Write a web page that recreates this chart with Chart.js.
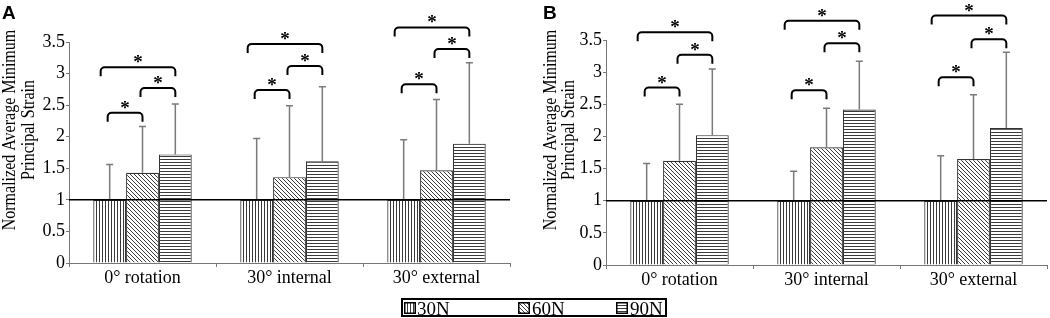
<!DOCTYPE html>
<html><head><meta charset="utf-8">
<script src="https://cdn.jsdelivr.net/npm/chart.js@4"></script>
<style>
html,body{margin:0;padding:0;background:#fff;width:1050px;height:318px;overflow:hidden;position:relative;font-family:'Liberation Serif','Times New Roman',serif}
canvas{position:absolute;top:0}
#ca{left:0}
#cb{left:525px}
.pl{position:absolute;font:bold 19px 'Liberation Sans',Arial,sans-serif;line-height:1;top:3px}
#legend{position:absolute;left:401px;top:298px;width:266px;height:19px;border:2px solid #000;box-sizing:border-box}
.sw{position:absolute;top:302px;width:12px;height:12px}
.lt{position:absolute;top:298.5px;font-size:19px;line-height:19px;color:#000;white-space:nowrap}
</style>
</head><body>
<canvas id="ca" width="525" height="318"></canvas>
<canvas id="cb" width="525" height="318"></canvas>
<div class="pl" style="left:2px">A</div>
<div class="pl" style="left:543px">B</div>
<div id="legend"></div>
<canvas class="sw" id="sw0" width="12" height="12" style="left:404px"></canvas>
<div class="lt" id="lt0" style="left:417px"></div>
<canvas class="sw" id="sw1" width="12" height="12" style="left:518px"></canvas>
<div class="lt" id="lt1" style="left:532px"></div>
<canvas class="sw" id="sw2" width="12" height="12" style="left:616px"></canvas>
<div class="lt" id="lt2" style="left:630px"></div>
<script>
// ---- data ----
const categories = ['0\u00B0 rotation', '30\u00B0 internal', '30\u00B0 external'];
const seriesNames = ['30N', '60N', '90N'];
const yTitle = ['Normalized Average Minimum', 'Principal Strain'];
const yTickLabels = ['0', '0.5', '1', '1.5', '2', '2.5', '3', '3.5'];

// Panel A: means and SD (upper error)
const a30 = [1, 1, 1];
const a60 = [1.43, 1.36, 1.47];
const a90 = [1.72, 1.61, 1.89];
const a30Err = [0.56, 0.97, 0.95];
const a60Err = [0.73, 1.13, 1.12];
const a90Err = [0.80, 1.18, 1.28];
// Panel B
const b30 = [1, 1, 1];
const b60 = [1.62, 1.83, 1.65];
const b90 = [2.02, 2.42, 2.13];
const b30Err = [0.58, 0.46, 0.70];
const b60Err = [0.88, 0.61, 1.00];
const b90Err = [1.03, 0.75, 1.18];
// significance brackets: pairs of series, height (data units) per category
const bracketPairs = [[0, 1], [1, 2], [0, 2]];
const aBrackets = [[2.38, 2.77, 3.10], [2.74, 3.12, 3.47], [2.83, 3.39, 3.73]];
const bBrackets = [[2.76, 3.27, 3.62], [2.72, 3.45, 3.80], [2.92, 3.51, 3.88]];
const refLine = 1;

const FONT = "'Liberation Serif','Times New Roman',serif";

function makeTile(kind) {
  const c = document.createElement('canvas');
  const n = kind === 'd' ? 4 : 3;
  c.width = n; c.height = n;
  const g = c.getContext('2d');
  g.fillStyle = '#fff'; g.fillRect(0, 0, n, n);
  g.fillStyle = '#3a3a3a';
  if (kind === 'v') g.fillRect(0, 0, 1, n);
  else if (kind === 'h') g.fillRect(0, 0, n, 1);
  else for (let i = 0; i < n; i++) g.fillRect(i, i, 1, 1);
  return c;
}
const kinds = ['v', 'd', 'h'];
function pattern(ctx, k) { return ctx.createPattern(makeTile(k), 'repeat'); }

const extras = {
  id: 'extras',
  afterDraw(chart, args, opts) {
    const ctx = chart.ctx;
    ctx.save();
    ctx.fillStyle = '#000';
    ctx.font = '16px ' + FONT;
    ctx.textAlign = 'center'; ctx.textBaseline = 'alphabetic';
    yTitle.forEach((line, i) => {
      ctx.save();
      ctx.translate(opts.titleX[i], opts.titleY);
      ctx.rotate(-Math.PI / 2);
      ctx.scale(1, 1.15);
      ctx.fillText(line, 0, 0);
      ctx.restore();
    });
    ctx.restore();
  },
  afterDatasetsDraw(chart, args, opts) {
    const ctx = chart.ctx, ys = chart.scales.y, area = chart.chartArea;
    ctx.save();
    // error bars
    ctx.strokeStyle = '#7a7a7a'; ctx.lineWidth = 1.5;
    opts.errors.forEach((errs, di) => {
      const meta = chart.getDatasetMeta(di);
      meta.data.forEach((bar, j) => {
        const v = chart.data.datasets[di].data[j];
        const top = ys.getPixelForValue(v + errs[j]);
        const x = bar.x;
        ctx.beginPath();
        ctx.moveTo(x, bar.y); ctx.lineTo(x, top);
        ctx.moveTo(x - 3.5, top); ctx.lineTo(x + 3.5, top);
        ctx.stroke();
      });
    });
    // reference line
    const yr = ys.getPixelForValue(refLine);
    ctx.strokeStyle = '#000'; ctx.lineWidth = 1.5;
    ctx.beginPath(); ctx.moveTo(area.left, yr); ctx.lineTo(area.right, yr); ctx.stroke();
    // brackets
    ctx.lineWidth = 2; ctx.strokeStyle = '#000'; ctx.fillStyle = '#000';
    ctx.font = 'bold 19px ' + FONT; ctx.textAlign = 'center'; ctx.textBaseline = 'alphabetic';
    opts.brackets.forEach((hs, cat) => {
      hs.forEach((h, k) => {
        const [f, t] = bracketPairs[k];
        const xL = chart.getDatasetMeta(f).data[cat].x - (t - f === 2 ? 9 : 2);
        const xR = chart.getDatasetMeta(t).data[cat].x;
        const yT = ys.getPixelForValue(h);
        const drop = 9, r = 4;
        ctx.beginPath();
        ctx.moveTo(xL, yT + drop);
        ctx.arcTo(xL, yT, xL + r, yT, r);
        ctx.lineTo(xR - r, yT);
        ctx.arcTo(xR, yT, xR, yT + r, r);
        ctx.lineTo(xR, yT + drop);
        ctx.stroke();
        ctx.fillText('*', (xL + xR) / 2, yT + 1);
      });
    });
    ctx.restore();
  }
};

function build(id, vals, errs, brackets, geo) {
  const canvas = document.getElementById(id);
  const ctx = canvas.getContext('2d');
  return new Chart(ctx, {
    type: 'bar',
    data: {
      labels: categories,
      datasets: seriesNames.map((n, i) => ({
        label: n, data: vals[i],
        backgroundColor: pattern(ctx, kinds[i]),
        borderColor: '#333', borderWidth: 1.2,
        categoryPercentage: 0.67, barPercentage: 1.0
      }))
    },
    options: {
      responsive: false, animation: false,
      layout: { padding: geo.pad },
      plugins: {
        legend: { display: false }, tooltip: { enabled: false },
        extras: { errors: errs, brackets: brackets, titleX: geo.titleX, titleY: 130 }
      },
      scales: {
        x: {
          afterFit: s => { s.height = 30; },
          ticks: { color: '#000', font: { family: FONT, size: 18 }, padding: 0 },
          grid: { offset: true, drawOnChartArea: false, tickLength: 4, color: '#777' },
          border: { color: '#777', width: 1 }
        },
        y: {
          min: 0, max: 3.5,
          afterFit: s => { s.width = geo.yW; },
          ticks: { stepSize: 0.5, color: '#000', font: { family: FONT, size: 18 }, padding: 1,
                   callback: (v, i) => yTickLabels[i] },
          grid: { drawOnChartArea: false, tickLength: 3, color: '#777' },
          border: { color: '#777', width: 1 }
        }
      }
    },
    plugins: [extras]
  });
}

build('ca', [a30, a60, a90], [a30Err, a60Err, a90Err], aBrackets,
      { pad: { left: 0, right: 15, top: 42, bottom: 25 }, yW: 69, titleX: [15, 34] });
build('cb', [b30, b60, b90], [b30Err, b60Err, b90Err], bBrackets,
      { pad: { left: 15, right: 3, top: 40, bottom: 23 }, yW: 66, titleX: [31, 49] });

// legend
kinds.forEach((k, i) => {
  const c = document.getElementById('sw' + i);
  const g = c.getContext('2d');
  g.fillStyle = g.createPattern(makeTile(k), 'repeat');
  g.fillRect(0, 0, 12, 12);
  g.strokeStyle = '#000'; g.lineWidth = 1.5;
  g.strokeRect(0.75, 0.75, 10.5, 10.5);
  document.getElementById('lt' + i).textContent = seriesNames[i];
});
</script>
</body></html>
